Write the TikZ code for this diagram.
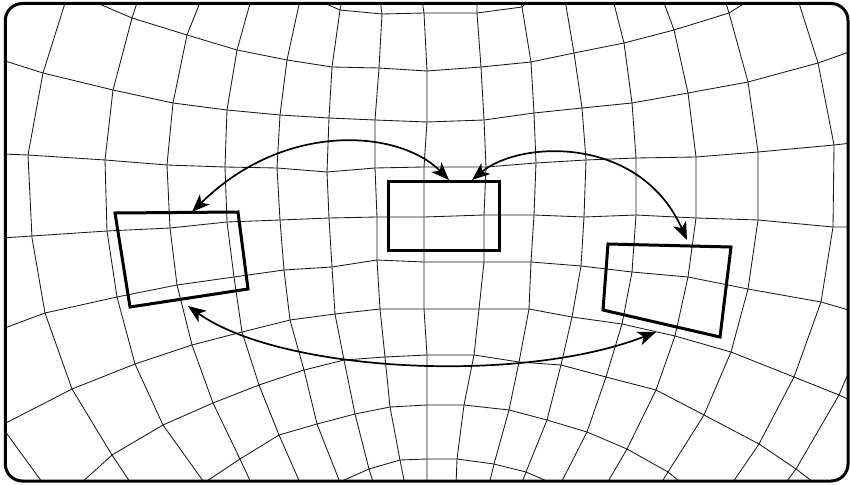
\documentclass[tikz,border=0pt]{standalone}
\usetikzlibrary{arrows.meta}
\begin{document}
\begin{tikzpicture}[x=1pt,y=-1pt,
  gridline/.style={line width=0.85pt, black!90, line join=round},
  rectbox/.style={draw, line width=3pt, line join=miter, inner sep=0pt},
  twoway/.style={line width=1.7pt,
    {Stealth[length=18pt,width=14pt,inset=5pt]}-{Stealth[length=18pt,width=14pt,inset=5pt]}},
  frame/.style={line width=3pt, rounded corners=17pt}]
\useasboundingbox (0,0) rectangle (850,484);
\begin{scope}
\clip[rounded corners=17pt] (5.3,3.5) rectangle (848,481);
% horizontal lines
\draw[gridline] plot coordinates {(317,0) (340,10) (382,14) (424,13) (477,13) (522,7) (529,0)};
\draw[gridline] plot coordinates {(90,0) (132,18) (187,35) (237,50) (287,60) (332,67) (379,68) (427,71) (481,67) (531,62) (574,53) (624,43) (674,30) (729,13) (750,0)};
\draw[gridline] plot coordinates {(2,60) (43,73) (113,90) (173,103) (227,110) (280,115) (329,118) (375,120) (427,122) (484,120) (534,113) (582,108) (632,103) (688,93) (748,82) (818,63) (852,51)};
\draw[gridline] plot coordinates {(2,154) (28,155) (105,160) (167,165) (225,167) (277,168) (327,172) (375,168) (424,167) (486,167) (536,163) (586,160) (636,158) (696,157) (758,152) (834,145) (852,143)};
\draw[gridline] plot coordinates {(2,238) (32,236) (107,231) (170,228) (227,222) (280,220) (329,218) (377,217) (424,217) (484,215) (534,215) (584,217) (636,215) (696,218) (758,220) (833,227) (852,227)};
\draw[gridline] plot coordinates {(2,329) (45,313) (117,297) (177,285) (234,277) (284,270) (332,267) (377,260) (424,262) (484,262) (531,262) (581,266) (632,272) (688,277) (748,289) (821,302) (852,311)};
\draw[gridline] plot coordinates {(2,425) (72,389) (135,364) (192,345) (242,332) (290,320) (335,314) (380,309) (424,309) (479,309) (529,309) (572,317) (622,324) (675,336) (731,352) (794,377) (839,395) (852,401)};
\draw[gridline] plot coordinates {(79,485) (112,455) (163,425) (213,403) (259,385) (304,370) (344,360) (385,357) (427,355) (474,355) (519,362) (561,365) (606,377) (656,390) (704,415) (759,444) (796,469) (817,485)};
\draw[gridline] plot coordinates {(201,485) (240,459) (279,435) (317,424) (355,414) (390,407) (427,405) (464,405) (509,410) (547,420) (587,432) (627,449) (668,472) (684,485)};
\draw[gridline] plot coordinates {(333,485) (369,469) (400,460) (427,459) (457,459) (494,464) (526,472) (556,485)};
% vertical lines
\draw[gridline] plot coordinates {(2,427) (42,482) (44,485)};
\draw[gridline] plot coordinates {(66,0) (43,73) (28,155) (32,238) (45,313) (72,389) (112,455) (132,485)};
\draw[gridline] plot coordinates {(138,0) (132,18) (113,90) (105,160) (107,231) (117,297) (135,364) (163,425) (206,485)};
\draw[gridline] plot coordinates {(201,0) (187,35) (173,103) (167,165) (170,228) (177,285) (192,345) (213,403) (240,459) (252,485)};
\draw[gridline] plot coordinates {(251,0) (237,50) (227,110) (225,167) (227,222) (234,277) (242,332) (259,385) (279,435) (301,485)};
\draw[gridline] plot coordinates {(300,0) (287,60) (280,115) (277,168) (280,220) (284,270) (290,320) (304,370) (317,424) (341,485)};
\draw[gridline] plot coordinates {(342,0) (340,10) (332,67) (329,118) (327,172) (329,218) (332,267) (335,314) (344,360) (355,414) (369,469) (374,485)};
\draw[gridline] plot coordinates {(380,0) (382,14) (379,68) (375,120) (375,168) (377,217) (377,260) (380,309) (385,357) (390,407) (400,460) (405,485)};
\draw[gridline] plot coordinates {(422,0) (424,13) (427,71) (427,122) (424,167) (424,217) (424,262) (424,309) (427,355) (427,405) (427,459) (427,485)};
\draw[gridline] plot coordinates {(477,0) (477,13) (481,67) (484,120) (486,167) (484,215) (484,262) (479,309) (474,355) (464,405) (457,459) (456,485)};
\draw[gridline] plot coordinates {(521,0) (522,7) (531,62) (534,113) (536,163) (534,215) (531,262) (529,309) (519,362) (509,410) (494,464) (489,485)};
\draw[gridline] plot coordinates {(565,0) (574,53) (582,108) (586,160) (584,217) (581,266) (572,317) (561,365) (547,420) (526,472) (521,485)};
\draw[gridline] plot coordinates {(613,0) (624,43) (632,103) (636,158) (636,215) (632,272) (622,324) (606,377) (587,432) (560,485)};
\draw[gridline] plot coordinates {(663,0) (674,30) (688,93) (696,157) (696,218) (688,277) (675,336) (656,390) (627,449) (606,485)};
\draw[gridline] plot coordinates {(725,0) (729,13) (748,82) (758,152) (758,220) (748,289) (731,352) (704,415) (668,472) (660,485)};
\draw[gridline] plot coordinates {(798,0) (818,63) (834,145) (833,227) (821,302) (794,377) (759,444) (731,485)};
\draw[gridline] plot coordinates {(853,362) (839,395) (796,469) (784,485)};
\end{scope}
\draw[frame] (5.3,3.5) rectangle (848,481);
% windows
\node[rectbox, minimum width=111pt, minimum height=69pt] (C) at (443.5,216) {};
\coordinate (L1) at (115,213);
\coordinate (L2) at (238,212);
\coordinate (L3) at (248,289);
\coordinate (L4) at (130,307);
\coordinate (R1) at (608,244);
\coordinate (R2) at (731,247);
\coordinate (R3) at (720,337);
\coordinate (R4) at (603,310);
\draw[rectbox] (L1) -- (L2) -- (L3) -- (L4) -- cycle;
\draw[rectbox] (R1) -- (R2) -- (R3) -- (R4) -- cycle;
% arrow ends
\coordinate (a1s) at (449,180);
\coordinate (a1e) at (192,212);
\coordinate (a2s) at (472,180);
\coordinate (a2e) at (687,240);
\coordinate (a3s) at (188,306);
\coordinate (a3e) at (656,332);
\draw[twoway] (a1s) .. controls (400,130) and (285,120) .. (a1e);
\draw[twoway] (a2s) .. controls (520,140) and (640,135) .. (a2e);
\draw[twoway] (a3s) .. controls (280,372) and (520,385) .. (a3e);
\end{tikzpicture}
\end{document}
